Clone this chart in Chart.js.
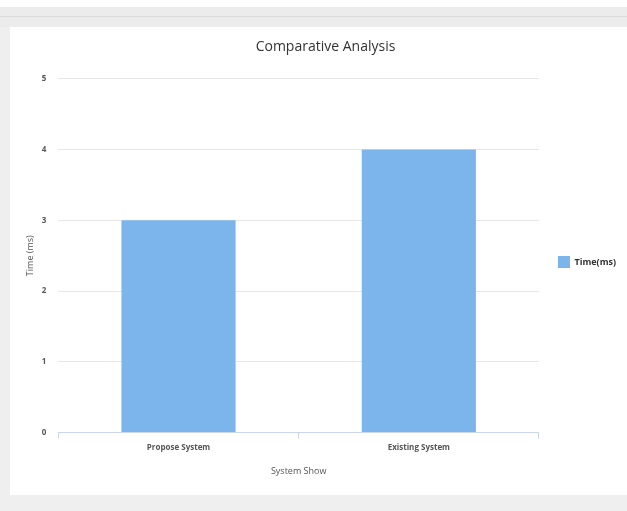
<!DOCTYPE html>
<html>
<head>
<meta charset="utf-8">
<script src="https://cdn.jsdelivr.net/npm/chart.js@4.4.1/dist/chart.umd.min.js"></script>
<style>
  html, body { margin: 0; padding: 0; background: #ffffff; overflow: hidden; }
  .page { position: relative; width: 627px; height: 511px; background: #ffffff; overflow: hidden; }
  .strip { position: absolute; left: 0; top: 7px; width: 627px; height: 20px; background: #ececec; border-bottom: 1px solid #e2e2e2; }
  .strip-line { position: absolute; left: 0; top: 16px; width: 627px; height: 1px; background: #dcdcdc; }
  .frame { position: absolute; left: 0; top: 27px; width: 627px; height: 484px; background: #efefef; }
  .panel { position: absolute; left: 10px; top: 27px; width: 617px; height: 468px; background: #ffffff; }
</style>
</head>
<body>
<div class="page">
  <div class="strip"></div>
  <div class="strip-line"></div>
  <div class="frame"></div>
  <div class="panel"><canvas id="myChart" width="617" height="468"></canvas></div>
</div>
<script>
// chart data
const categories = ["Propose System", "Existing System"];
const timeValues = [3, 4];
const yTicks = [0, 1, 2, 3, 4, 5];

const ctx = document.getElementById("myChart");

if (ctx) {
  const myChart = new Chart(ctx, {
    type: "bar",
    data: {
      labels: categories,
      datasets: [
        {
          label: "Time(ms)",
          data: timeValues,
          backgroundColor: "#7cb5ec",
          borderWidth: 0,
          barPercentage: 0.475,
          categoryPercentage: 1,
        },
      ],
    },
    options: {
      responsive: false,
      animation: false,
      layout: {
        padding: { left: 15, right: 1, top: 0, bottom: 18 },
      },
      plugins: {
        title: {
          display: true,
          text: "Comparative Analysis",
          color: "#333333",
          font: { family: "Open Sans", size: 14, weight: "normal" },
          padding: { top: 12, bottom: 23 },
        },
        legend: {
          position: "right",
          // empty title just nudges the legend item down a bit
          title: {
            display: true,
            text: " ",
            font: { size: 10 },
            padding: 4,
          },
          labels: {
            boxWidth: 12,
            boxHeight: 12,
            padding: 19,
            color: "#333333",
            font: { family: "Open Sans", size: 9, weight: "bold" },
          },
        },
        tooltip: { enabled: false },
      },
      scales: {
        x: {
          grid: {
            display: true,
            drawOnChartArea: false,
            drawTicks: true,
            tickLength: 6,
            color: "#ccd6eb",
            offset: true,
          },
          border: { display: true, color: "#ccd6eb", width: 1 },
          ticks: {
            color: "#555555",
            padding: 4,
            font: { family: "Open Sans", size: 8, weight: "bold" },
          },
          title: {
            display: true,
            text: "System Show",
            color: "#555555",
            font: { family: "Open Sans", size: 9 },
            padding: { top: 10, bottom: 0 },
          },
        },
        y: {
          min: 0,
          max: 5,
          afterBuildTicks: (axis) => {
            axis.ticks = yTicks.map((v) => ({ value: v }));
          },
          grid: {
            color: "#e6e6e6",
            drawTicks: false,
          },
          border: { display: false },
          ticks: {
            color: "#555555",
            padding: 12,
            font: { family: "Open Sans", size: 8, weight: "bold" },
          },
          title: {
            display: true,
            text: "Time (ms)",
            color: "#555555",
            font: { family: "Open Sans", size: 9 },
            padding: { top: 0, bottom: -6 },
          },
        },
      },
    },
  });
}
</script>
</body>
</html>
